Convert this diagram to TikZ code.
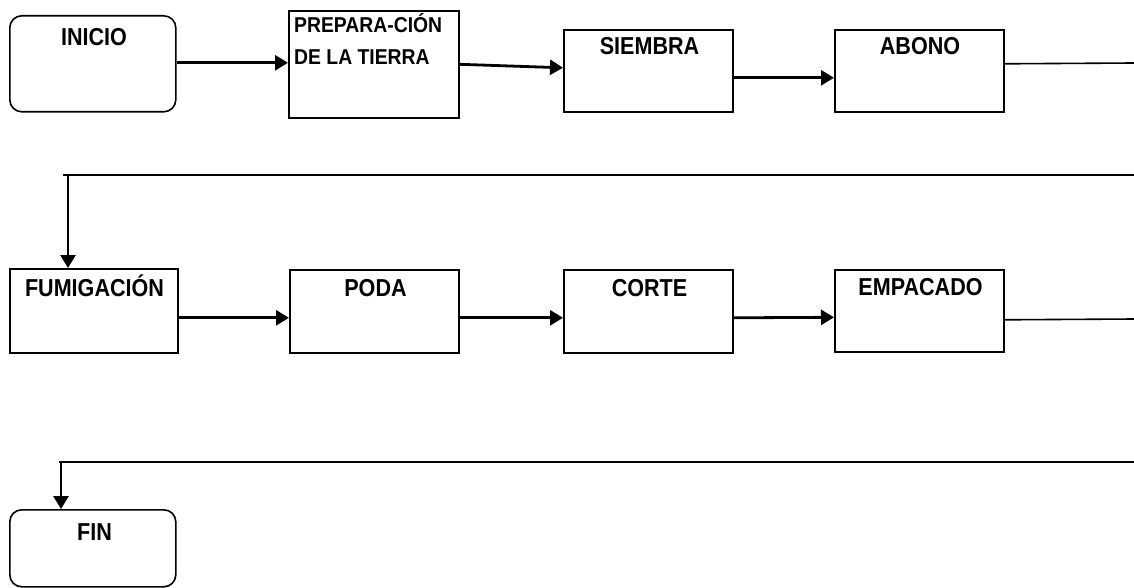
\documentclass[tikz,border=0pt]{standalone}
\usepackage{graphicx}
\usepackage{fontspec}
\setmainfont{Liberation Sans}
\newcommand\sqz[1]{\scalebox{0.88}[1]{#1}}
\newcommand\sqzb[1]{\scalebox{0.9}[1]{#1}}
\usetikzlibrary{arrows.meta,calc}
\tikzset{
  box/.style={draw, line width=1.6pt, inner sep=0pt, anchor=north west},
  rbox/.style={box, rounded corners=12pt},
  lbl/.style={anchor=base, inner sep=0pt, font=\fontsize{24.5}{28}\selectfont\bfseries},
  lblsmall/.style={anchor=base west, inner sep=0pt, font=\fontsize{21.5}{26}\selectfont\bfseries},
  arr/.style={line width=2.8pt, -{Triangle[length=13pt,width=15pt]}},
  plain/.style={line width=1.6pt},
}
\begin{document}
\begin{tikzpicture}[x=1pt,y=-1pt]
\useasboundingbox (0,0) rectangle (1134,588);
% row 1
\node[rbox, minimum width=166pt, minimum height=96pt] (inicio) at (9,15) {};
\node[box, minimum width=170pt, minimum height=107pt] (prep) at (288,10) {};
\node[box, minimum width=169pt, minimum height=82pt] (siembra) at (563,29) {};
\node[box, minimum width=169pt, minimum height=82pt] (abono) at (834,29) {};
% row 2
\node[box, minimum width=168pt, minimum height=84pt] (fumig) at (9,268) {};
\node[box, minimum width=169pt, minimum height=83pt] (poda) at (289,269) {};
\node[box, minimum width=169pt, minimum height=83pt] (corte) at (563,269) {};
\node[box, minimum width=169pt, minimum height=82pt] (empac) at (834,269) {};
% row 3
\node[rbox, minimum width=166pt, minimum height=77pt] (fin) at (9,509) {};
% labels
\node[lbl] (tinicio) at (94,46) {\sqz{INICIO}};
\node[lblsmall] (tprep1) at (294,33) {\sqzb{PREPARA-CIÓN}};
\node[lblsmall] (tprep2) at (294,65) {\sqzb{DE LA TIERRA}};
\node[lbl] (tsiembra) at (649.5,55) {\sqz{SIEMBRA}};
\node[lbl] (tabono) at (920,55) {\sqz{ABONO}};
\node[lbl] (tfumig) at (94.5,296) {\sqz{FUMIGACIÓN}};
\node[lbl] (tpoda) at (375.5,296) {\sqz{PODA}};
\node[lbl] (tcorte) at (649.5,296) {\sqz{CORTE}};
\node[lbl] (tempac) at (920.5,295) {\sqz{EMPACADO}};
\node[lbl] (tfin) at (94.5,540) {\sqz{FIN}};
% connector coordinates
\coordinate (r1) at (1134,63);
\coordinate (b1r) at (1134,175);
\coordinate (b1l) at (63,175);
\coordinate (b1d) at (68,175);
\coordinate (r2) at (1134,319);
\coordinate (b2r) at (1134,462);
\coordinate (b2l) at (59,462);
\coordinate (b2d) at (61,462);
% row 1 connectors
\draw[arr] ([yshift=1pt]inicio.east) -- ([yshift=1pt]inicio.east -| prep.west);
\draw[arr] (prep.east) -- ([yshift=3pt]siembra.west);
\draw[arr] ([yshift=-7pt]siembra.east) -- ([yshift=-7pt]abono.west);
\draw[plain] ([yshift=7pt]abono.east) -- (r1);
\draw[plain] (b1r) -- (b1l);
\draw[arr] (b1d) -- (b1d |- fumig.north);
% row 2 connectors
\draw[arr] ([yshift=-7pt]fumig.east) -- ([yshift=-7pt]fumig.east -| poda.west);
\draw[arr] ([yshift=-6.5pt]poda.east) -- ([yshift=-6.5pt]corte.west);
\draw[arr] ([yshift=-6.5pt]corte.east) -- ([yshift=-6.5pt]empac.west);
\draw[plain] ([yshift=-9pt]empac.east) -- (r2);
\draw[plain] (b2r) -- (b2l);
\draw[arr] (b2d) -- (b2d |- fin.north);
\end{tikzpicture}
\end{document}
